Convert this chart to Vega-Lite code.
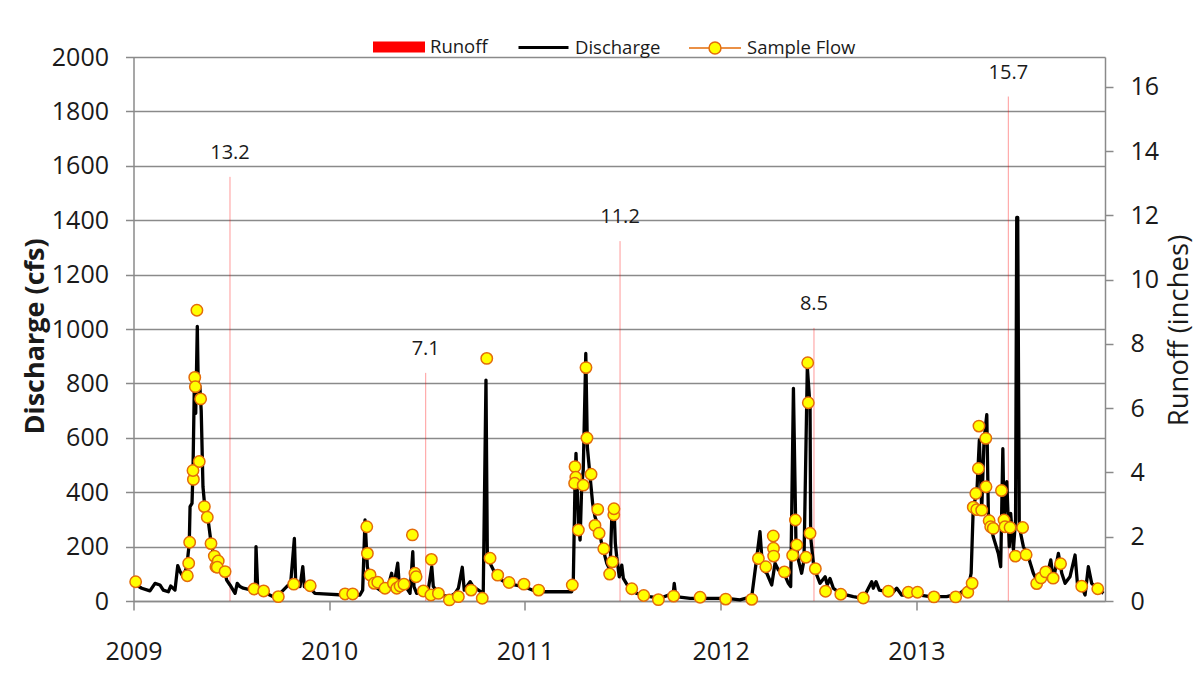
{
  "$schema": "https://vega.github.io/schema/vega-lite/v6.json",
  "autosize": "none",
  "width": 971.5,
  "height": 544,
  "padding": {"left": 133.5, "top": 57, "right": 91, "bottom": 72},
  "background": "white",
  "config": {"font": "Open Sans", "view": {"stroke": null}, "legend": {"labelFontSize": 18.5, "labelColor": "#1a1a1a", "labelOffset": 5, "title": null, "orient": "none", "direction": "horizontal"}},
  "datasets": {
    "runoff": [
      {"t": 2009.493, "r": 13.2, "lbl": "13.2"},
      {"t": 2010.493, "r": 7.1, "lbl": "7.1"},
      {"t": 2011.486, "r": 11.2, "lbl": "11.2"},
      {"t": 2012.477, "r": 8.5, "lbl": "8.5"},
      {"t": 2013.470, "r": 15.7, "lbl": "15.7"}
    ],
    "discharge": [
      {"t":2009.000,"q":65},{"t":2009.042,"q":47},{"t":2009.084,"q":37},{"t":2009.110,"q":65},{"t":2009.135,"q":59},{"t":2009.152,"q":40},{"t":2009.178,"q":34},{"t":2009.190,"q":55},{"t":2009.212,"q":40},{"t":2009.226,"q":130},{"t":2009.238,"q":108},{"t":2009.254,"q":89},{"t":2009.272,"q":126},{"t":2009.285,"q":212},{"t":2009.289,"q":347},{"t":2009.299,"q":359},{"t":2009.304,"q":480},{"t":2009.311,"q":800},{"t":2009.318,"q":690},{"t":2009.326,"q":1010},{"t":2009.332,"q":740},{"t":2009.339,"q":790},{"t":2009.346,"q":700},{"t":2009.355,"q":420},{"t":2009.365,"q":340},{"t":2009.381,"q":300},{"t":2009.396,"q":215},{"t":2009.411,"q":165},{"t":2009.432,"q":145},{"t":2009.447,"q":120},{"t":2009.468,"q":105},{"t":2009.476,"q":77},{"t":2009.493,"q":59},{"t":2009.519,"q":28},{"t":2009.530,"q":65},{"t":2009.544,"q":53},{"t":2009.561,"q":47},{"t":2009.604,"q":40},{"t":2009.623,"q":50},{"t":2009.626,"q":200},{"t":2009.635,"q":40},{"t":2009.663,"q":34},{"t":2009.714,"q":16},{"t":2009.749,"q":28},{"t":2009.783,"q":53},{"t":2009.803,"q":65},{"t":2009.822,"q":230},{"t":2009.829,"q":65},{"t":2009.851,"q":53},{"t":2009.865,"q":126},{"t":2009.873,"q":53},{"t":2009.902,"q":47},{"t":2009.927,"q":28},{"t":2009.970,"q":26},
      {"t":2010.072,"q":22},{"t":2010.157,"q":22},{"t":2010.171,"q":40},{"t":2010.183,"q":298},{"t":2010.195,"q":126},{"t":2010.209,"q":77},{"t":2010.234,"q":53},{"t":2010.260,"q":40},{"t":2010.294,"q":34},{"t":2010.319,"q":102},{"t":2010.328,"q":47},{"t":2010.350,"q":139},{"t":2010.358,"q":59},{"t":2010.396,"q":47},{"t":2010.413,"q":28},{"t":2010.427,"q":181},{"t":2010.433,"q":53},{"t":2010.447,"q":28},{"t":2010.481,"q":47},{"t":2010.503,"q":28},{"t":2010.524,"q":126},{"t":2010.532,"q":53},{"t":2010.566,"q":22},{"t":2010.617,"q":16},{"t":2010.643,"q":28},{"t":2010.660,"q":47},{"t":2010.680,"q":124},{"t":2010.690,"q":40},{"t":2010.720,"q":71},{"t":2010.736,"q":53},{"t":2010.787,"q":28},{"t":2010.801,"q":812},{"t":2010.808,"q":163},{"t":2010.822,"q":139},{"t":2010.856,"q":89},{"t":2010.907,"q":65},{"t":2010.992,"q":53},
      {"t":2011.060,"q":34},{"t":2011.128,"q":34},{"t":2011.239,"q":34},{"t":2011.247,"q":65},{"t":2011.256,"q":433},{"t":2011.261,"q":543},{"t":2011.273,"q":286},{"t":2011.282,"q":224},{"t":2011.290,"q":420},{"t":2011.298,"q":481},{"t":2011.311,"q":910},{"t":2011.319,"q":567},{"t":2011.333,"q":457},{"t":2011.346,"q":359},{"t":2011.358,"q":310},{"t":2011.375,"q":273},{"t":2011.392,"q":212},{"t":2011.418,"q":139},{"t":2011.435,"q":114},{"t":2011.444,"q":310},{"t":2011.455,"q":347},{"t":2011.462,"q":212},{"t":2011.469,"q":163},{"t":2011.482,"q":89},{"t":2011.495,"q":132},{"t":2011.503,"q":83},{"t":2011.528,"q":53},{"t":2011.571,"q":28},{"t":2011.639,"q":16},{"t":2011.690,"q":10},{"t":2011.758,"q":28},{"t":2011.763,"q":65},{"t":2011.771,"q":16},{"t":2011.844,"q":10},{"t":2011.929,"q":10},
      {"t":2012.031,"q":10},{"t":2012.099,"q":4},{"t":2012.159,"q":16},{"t":2012.181,"q":139},{"t":2012.201,"q":255},{"t":2012.215,"q":114},{"t":2012.236,"q":102},{"t":2012.261,"q":59},{"t":2012.278,"q":139},{"t":2012.295,"q":114},{"t":2012.317,"q":114},{"t":2012.346,"q":65},{"t":2012.358,"q":53},{"t":2012.372,"q":782},{"t":2012.385,"q":212},{"t":2012.397,"q":151},{"t":2012.414,"q":102},{"t":2012.426,"q":151},{"t":2012.443,"q":860},{"t":2012.457,"q":714},{"t":2012.460,"q":236},{"t":2012.474,"q":139},{"t":2012.491,"q":96},{"t":2012.508,"q":65},{"t":2012.534,"q":89},{"t":2012.545,"q":59},{"t":2012.559,"q":83},{"t":2012.576,"q":47},{"t":2012.610,"q":28},{"t":2012.678,"q":16},{"t":2012.729,"q":10},{"t":2012.772,"q":71},{"t":2012.780,"q":47},{"t":2012.794,"q":71},{"t":2012.811,"q":40},{"t":2012.849,"q":34},{"t":2012.883,"q":34},{"t":2012.900,"q":47},{"t":2012.925,"q":22},
      {"t":2013.019,"q":22},{"t":2013.070,"q":16},{"t":2013.155,"q":16},{"t":2013.223,"q":28},{"t":2013.266,"q":53},{"t":2013.280,"q":102},{"t":2013.291,"q":347},{"t":2013.309,"q":396},{"t":2013.322,"q":592},{"t":2013.334,"q":335},{"t":2013.346,"q":592},{"t":2013.360,"q":685},{"t":2013.368,"q":322},{"t":2013.393,"q":236},{"t":2013.419,"q":175},{"t":2013.431,"q":126},{"t":2013.442,"q":560},{"t":2013.448,"q":298},{"t":2013.462,"q":439},{"t":2013.475,"q":200},{"t":2013.482,"q":322},{"t":2013.496,"q":188},{"t":2013.507,"q":300},{"t":2013.513,"q":1410},{"t":2013.518,"q":1410},{"t":2013.526,"q":273},{"t":2013.547,"q":200},{"t":2013.572,"q":163},{"t":2013.598,"q":102},{"t":2013.615,"q":77},{"t":2013.649,"q":89},{"t":2013.666,"q":89},{"t":2013.687,"q":151},{"t":2013.700,"q":77},{"t":2013.726,"q":175},{"t":2013.743,"q":102},{"t":2013.760,"q":65},{"t":2013.785,"q":89},{"t":2013.811,"q":169},{"t":2013.823,"q":65},{"t":2013.845,"q":53},{"t":2013.862,"q":22},{"t":2013.879,"q":126},{"t":2013.896,"q":65},{"t":2013.922,"q":47},{"t":2013.956,"q":28}
    ],
    "samples": [
      {"t":2009.011,"q":71},{"t":2009.275,"q":93},{"t":2009.282,"q":139},{"t":2009.287,"q":216},{"t":2009.306,"q":447},{"t":2009.304,"q":480},{"t":2009.313,"q":822},{"t":2009.316,"q":788},{"t":2009.324,"q":1069},{"t":2009.343,"q":743},{"t":2009.336,"q":513},{"t":2009.362,"q":347},{"t":2009.377,"q":308},{"t":2009.396,"q":211},{"t":2009.413,"q":165},{"t":2009.421,"q":126},{"t":2009.433,"q":147},{"t":2009.428,"q":124},{"t":2009.468,"q":108},{"t":2009.616,"q":44},{"t":2009.665,"q":37},{"t":2009.740,"q":16},{"t":2009.819,"q":62},{"t":2009.903,"q":56},
      {"t":2010.081,"q":26},{"t":2010.120,"q":26},{"t":2010.192,"q":273},{"t":2010.195,"q":175},{"t":2010.209,"q":96},{"t":2010.230,"q":65},{"t":2010.248,"q":69},{"t":2010.285,"q":47},{"t":2010.328,"q":65},{"t":2010.345,"q":47},{"t":2010.362,"q":55},{"t":2010.382,"q":62},{"t":2010.425,"q":243},{"t":2010.438,"q":102},{"t":2010.444,"q":89},{"t":2010.481,"q":37},{"t":2010.522,"q":153},{"t":2010.520,"q":22},{"t":2010.558,"q":28},{"t":2010.614,"q":4},{"t":2010.660,"q":16},{"t":2010.725,"q":40},{"t":2010.782,"q":10},{"t":2010.805,"q":892},{"t":2010.822,"q":157},{"t":2010.861,"q":95},{"t":2010.919,"q":68},{"t":2010.995,"q":62},{"t":2011.070,"q":40},
      {"t":2011.242,"q":59},{"t":2011.256,"q":494},{"t":2011.260,"q":455},{"t":2011.254,"q":433},{"t":2011.273,"q":261},{"t":2011.298,"q":426},{"t":2011.312,"q":858},{"t":2011.317,"q":599},{"t":2011.338,"q":466},{"t":2011.358,"q":278},{"t":2011.372,"q":337},{"t":2011.379,"q":249},{"t":2011.403,"q":192},{"t":2011.433,"q":99},{"t":2011.447,"q":144},{"t":2011.454,"q":317},{"t":2011.455,"q":339},{"t":2011.546,"q":45},{"t":2011.607,"q":20},{"t":2011.682,"q":5},{"t":2011.760,"q":18},{"t":2011.895,"q":14},
      {"t":2012.026,"q":7},{"t":2012.159,"q":6},{"t":2012.193,"q":156},{"t":2012.231,"q":126},{"t":2012.269,"q":239},{"t":2012.270,"q":194},{"t":2012.271,"q":165},{"t":2012.326,"q":107},{"t":2012.368,"q":168},{"t":2012.382,"q":298},{"t":2012.389,"q":206},{"t":2012.436,"q":161},{"t":2012.445,"q":876},{"t":2012.448,"q":729},{"t":2012.457,"q":249},{"t":2012.484,"q":119},{"t":2012.536,"q":36},{"t":2012.614,"q":25},{"t":2012.729,"q":11},{"t":2012.857,"q":36},{"t":2012.959,"q":32},{"t":2013.006,"q":32},
      {"t":2013.090,"q":15},{"t":2013.201,"q":15},{"t":2013.263,"q":32},{"t":2013.285,"q":65},{"t":2013.320,"q":643},{"t":2013.355,"q":598},{"t":2013.317,"q":487},{"t":2013.356,"q":420},{"t":2013.304,"q":395},{"t":2013.291,"q":345},{"t":2013.309,"q":336},{"t":2013.334,"q":334},{"t":2013.372,"q":295},{"t":2013.380,"q":273},{"t":2013.393,"q":267},{"t":2013.435,"q":406},{"t":2013.448,"q":298},{"t":2013.453,"q":273},{"t":2013.479,"q":270},{"t":2013.543,"q":270},{"t":2013.506,"q":165},{"t":2013.561,"q":170},{"t":2013.615,"q":64},{"t":2013.637,"q":85},{"t":2013.661,"q":107},{"t":2013.699,"q":84},{"t":2013.737,"q":137},{"t":2013.845,"q":54},{"t":2013.927,"q":45}
    ]
  },
  "encoding": {
    "x": {
      "field": "t", "type": "quantitative",
      "scale": {"domain": [2009, 2013.964], "nice": false, "zero": false},
      "axis": {
        "title": null, "values": [2009, 2010, 2011, 2012, 2013], "format": "d", "labelFlush": false,
        "grid": false, "domainColor": "#8a8a8a", "domainWidth": 1.5, "tickColor": "#8a8a8a", "tickWidth": 1.5, "tickSize": 9,
        "labelFontSize": 25, "labelColor": "#1a1a1a", "labelPadding": 29
      }
    }
  },
  "layer": [
    {
      "data": {"name": "runoff"},
      "layer": [
        {
          "mark": {"type": "rule", "strokeWidth": 1, "strokeOpacity": 0.4},
          "encoding": {
            "y": {
              "field": "r", "type": "quantitative",
              "scale": {"domain": [0, 16.93], "nice": false, "zero": true},
              "axis": {
                "orient": "right", "title": "Runoff (inches)", "values": [0, 2, 4, 6, 8, 10, 12, 14, 16], "format": "d",
                "grid": false, "domainColor": "#8a8a8a", "domainWidth": 1.5, "tickColor": "#8a8a8a", "tickWidth": 1.5, "tickSize": 8,
                "labelFontSize": 25, "labelColor": "#1a1a1a", "labelPadding": 17,
                "titleFontSize": 27.5, "titleFontWeight": "normal", "titleColor": "#1a1a1a",
                "titleAngle": -90, "titleX": 74, "titleY": 273, "titleAlign": "center", "titleBaseline": "middle"
              }
            },
            "y2": {"datum": 0},
            "color": {
              "datum": "Runoff", "type": "nominal",
              "scale": {"domain": ["Runoff"], "range": ["#FF0000"]},
              "legend": {
                "legendX": 239.5, "legendY": -36,
                "symbolType": "M-1,-0.21H1V0.21H-1Z", "symbolSize": 2704, "symbolStrokeWidth": 0,
                "symbolFillColor": "#FF0000", "symbolStrokeColor": "#FF0000", "symbolOpacity": 1
              }
            }
          }
        },
        {
          "mark": {"type": "text", "fontSize": 20, "color": "#1a1a1a", "baseline": "bottom", "dy": -14},
          "encoding": {
            "y": {"field": "r", "type": "quantitative"},
            "text": {"field": "lbl"}
          }
        }
      ]
    },
    {
      "layer": [
        {
          "data": {"name": "discharge"},
          "mark": {"type": "line", "strokeWidth": 3.3, "strokeJoin": "round"},
          "encoding": {
            "y": {
              "field": "q", "type": "quantitative",
              "scale": {"domain": [0, 2000], "nice": false},
              "axis": {
                "title": "Discharge (cfs)", "values": [0, 200, 400, 600, 800, 1000, 1200, 1400, 1600, 1800, 2000], "format": "d",
                "grid": true, "gridColor": "#8a8a8a", "gridWidth": 1.5,
                "domainColor": "#8a8a8a", "domainWidth": 1.5, "tickColor": "#8a8a8a", "tickWidth": 1.5, "tickSize": 8,
                "labelFontSize": 25, "labelColor": "#1a1a1a", "labelPadding": 17,
                "titleFontSize": 27, "titleFontWeight": "bold", "titleColor": "#1a1a1a",
                "titleAngle": -90, "titleX": -98, "titleY": 279, "titleAlign": "center", "titleBaseline": "middle"
              }
            },
            "stroke": {
              "datum": "Discharge", "type": "nominal",
              "scale": {"domain": ["Discharge"], "range": ["#000000"]},
              "legend": {
                "legendX": 383.5, "legendY": -36,
                "symbolType": "M-1,0H1", "symbolSize": 2500, "symbolStrokeWidth": 3, "symbolStrokeColor": "#000000"
              }
            }
          }
        },
        {
          "data": {"name": "samples"},
          "mark": {"type": "point", "filled": true, "size": 130, "stroke": "#E46C0A", "strokeWidth": 1.5, "opacity": 1},
          "encoding": {
            "y": {"field": "q", "type": "quantitative"},
            "fill": {
              "datum": "Sample Flow", "type": "nominal",
              "scale": {"domain": ["Sample Flow"], "range": ["#FFFF00"]},
              "legend": {
                "legendX": 554.5, "legendY": -36,
                "symbolType": "M-1,0H-0.23M0.23,0H1M0.23,0A0.23,0.23,0,1,1,-0.23,0A0.23,0.23,0,1,1,0.23,0Z",
                "symbolSize": 2704, "symbolStrokeWidth": 1.5, "symbolStrokeColor": "#E46C0A", "symbolFillColor": "#FFFF00"
              }
            }
          }
        }
      ]
    }
  ],
  "resolve": {"scale": {"y": "independent"}}
}
